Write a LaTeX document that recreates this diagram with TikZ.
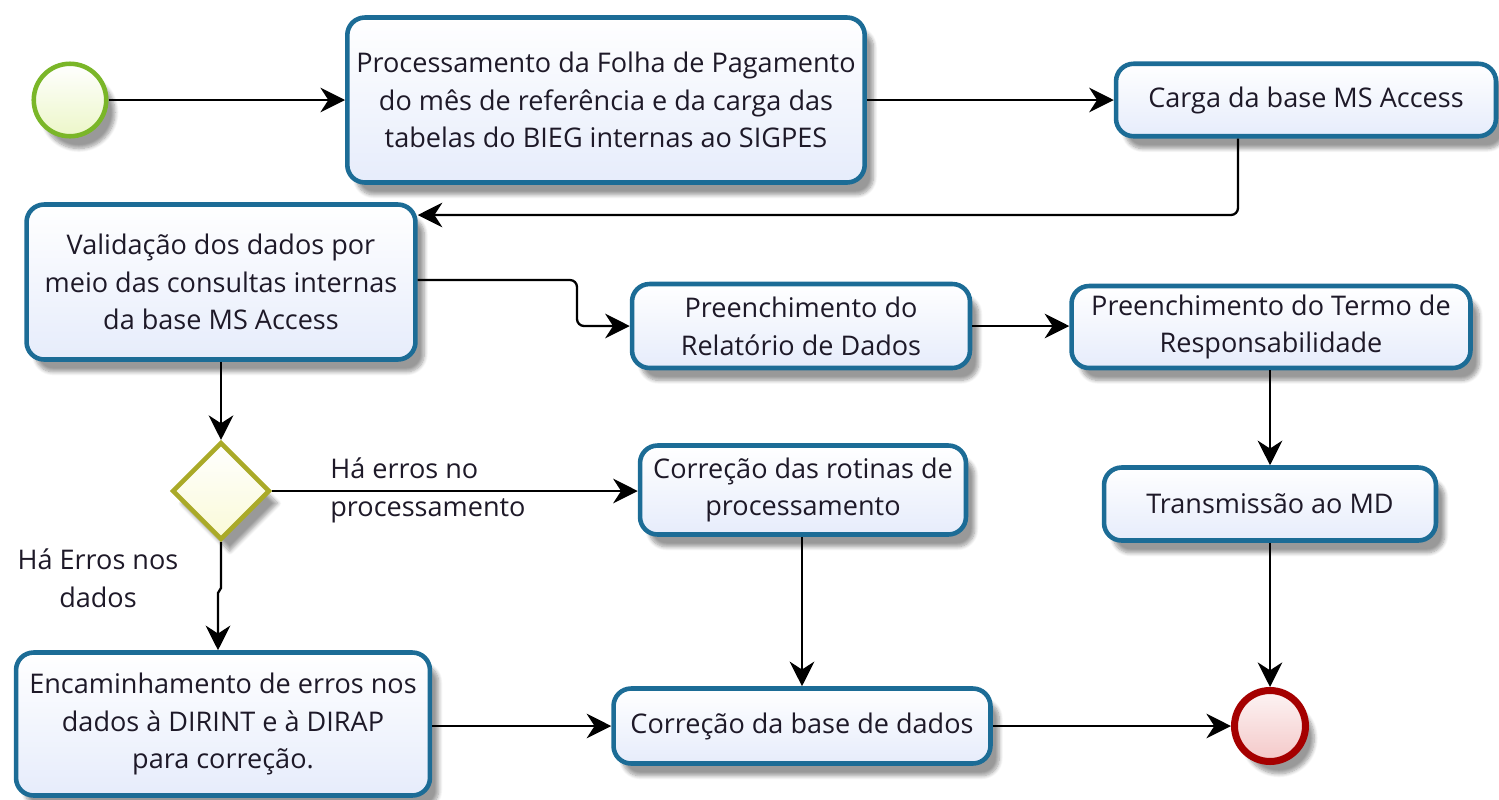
\documentclass[tikz,border=0pt]{standalone}
\usepackage{fontspec}
\setmainfont{Open Sans}
\usetikzlibrary{arrows.meta,shapes.geometric,shadows.blur}
\definecolor{bord}{RGB}{28,108,150}
\definecolor{fillb}{RGB}{230,236,251}
\definecolor{txt}{RGB}{30,25,40}
\definecolor{gborder}{RGB}{122,182,40}
\definecolor{gfill}{RGB}{236,246,200}
\definecolor{rborder}{RGB}{165,0,0}
\definecolor{rfill}{RGB}{244,200,200}
\definecolor{yborder}{RGB}{170,170,40}
\definecolor{yfill}{RGB}{250,250,215}
\begin{document}
\begin{tikzpicture}[x=0.02cm,y=-0.02cm,
  box/.style={draw=bord, line width=2.6pt, rounded corners=10pt,
    top color=white, bottom color=fillb, align=center, inner sep=0pt,
    font=\fontsize{15.4}{21.5}\selectfont, text=txt,
    blur shadow={shadow xshift=5pt, shadow yshift=-7pt, shadow blur steps=8, shadow opacity=40}},
  conn/.style={line width=1.3pt, -{Stealth[length=14pt,width=14pt,inset=4.5pt]}, rounded corners=4pt},
  lbl/.style={font=\fontsize{15.4}{21.5}\selectfont, text=txt, inner sep=0pt},
  startev/.style={circle, draw=gborder, line width=2.6pt, top color=white, bottom color=gfill,
    minimum size=1.45cm, inner sep=0pt,
    blur shadow={shadow xshift=5pt, shadow yshift=-7pt, shadow blur steps=8, shadow opacity=40}},
  endev/.style={circle, draw=rborder, line width=4pt, top color=white!80!rfill, bottom color=rfill,
    minimum size=1.42cm, inner sep=0pt,
    blur shadow={shadow xshift=5pt, shadow yshift=-7pt, shadow blur steps=8, shadow opacity=40}},
  gate/.style={diamond, draw=yborder, line width=2.6pt, top color=white, bottom color=yfill,
    minimum width=1.95cm, minimum height=1.95cm, inner sep=0pt,
    blur shadow={shadow xshift=5pt, shadow yshift=-7pt, shadow blur steps=8, shadow opacity=40}},
]
\useasboundingbox (0,0) rectangle (1499,799);

\node[startev] (start) at (70,100) {};
\node[box, minimum width=10.35cm, minimum height=3.3cm] (proc) at (606,100)
  {Processamento da Folha de Pagamento\\do mês de referência e da carga das\\tabelas do BIEG internas ao SIGPES};
\node[box, minimum width=7.6cm, minimum height=1.45cm] (carga) at (1306,100) {Carga da base MS Access};
\node[box, minimum width=7.78cm, minimum height=3.1cm] (valid) at (221,282)
  {Validação dos dados por\\meio das consultas internas\\da base MS Access};
\node[box, minimum width=6.76cm, minimum height=1.68cm] (rel) at (801,326)
  {Preenchimento do\\Relatório de Dados};
\node[box, minimum width=7.98cm, minimum height=1.64cm] (termo) at (1271,327)
  {Preenchimento do Termo de\\Responsabilidade};
\node[gate] (gw) at (221,491) {};
\node[box, minimum width=6.52cm, minimum height=1.78cm] (rot) at (803,490)
  {Correção das rotinas de\\processamento};
\node[box, minimum width=6.64cm, minimum height=1.46cm] (trans) at (1270,504) {Transmissão ao MD};
\node[box, minimum width=8.28cm, minimum height=2.86cm] (enc) at (223,724)
  {Encaminhamento de erros nos\\dados à DIRINT e à DIRAP\\para correção.};
\node[box, minimum width=7.54cm, minimum height=1.5cm] (base) at (802,726) {Correção da base de dados};
\node[endev] (end) at (1270,726) {};

\node[lbl, anchor=west, align=left] (l1) at (330,490) {Há erros no\\processamento};
\node[lbl, align=center] (l2) at (98,578) {Há Erros nos\\dados};

\coordinate (k1) at (1238,215);
\coordinate (k2) at (577,280);
\coordinate (k3a) at (221,588);
\coordinate (k3) at (218,593);

\draw[conn] (start) -- (proc);
\draw[conn] (proc.east |- carga.west) -- (carga.west);
\draw[conn] (carga.south -| k1) -- (k1) -- (k1 -| valid.east);
\draw[conn] (k2 -| valid.east) -- (k2) |- (rel.west);
\draw[conn] (rel.east) -- (rel.east -| termo.west);
\draw[conn] (trans.north |- termo.south) -- (trans.north);
\draw[conn] (trans.south) -- (end.north);
\draw[conn] (valid.south) -- (gw.north);
\draw[conn, rounded corners=0pt] (gw.east) -- (gw.east -| rot.west);
\draw[conn, rounded corners=0pt] (gw.south) -- (k3a) -- (k3) -- (k3 |- enc.north);
\draw[conn] (enc.east |- base.west) -- (base.west);
\draw[conn] (base.north |- rot.south) -- (base.north);
\draw[conn] (base.east) -- (end.west);
\end{tikzpicture}
\end{document}
